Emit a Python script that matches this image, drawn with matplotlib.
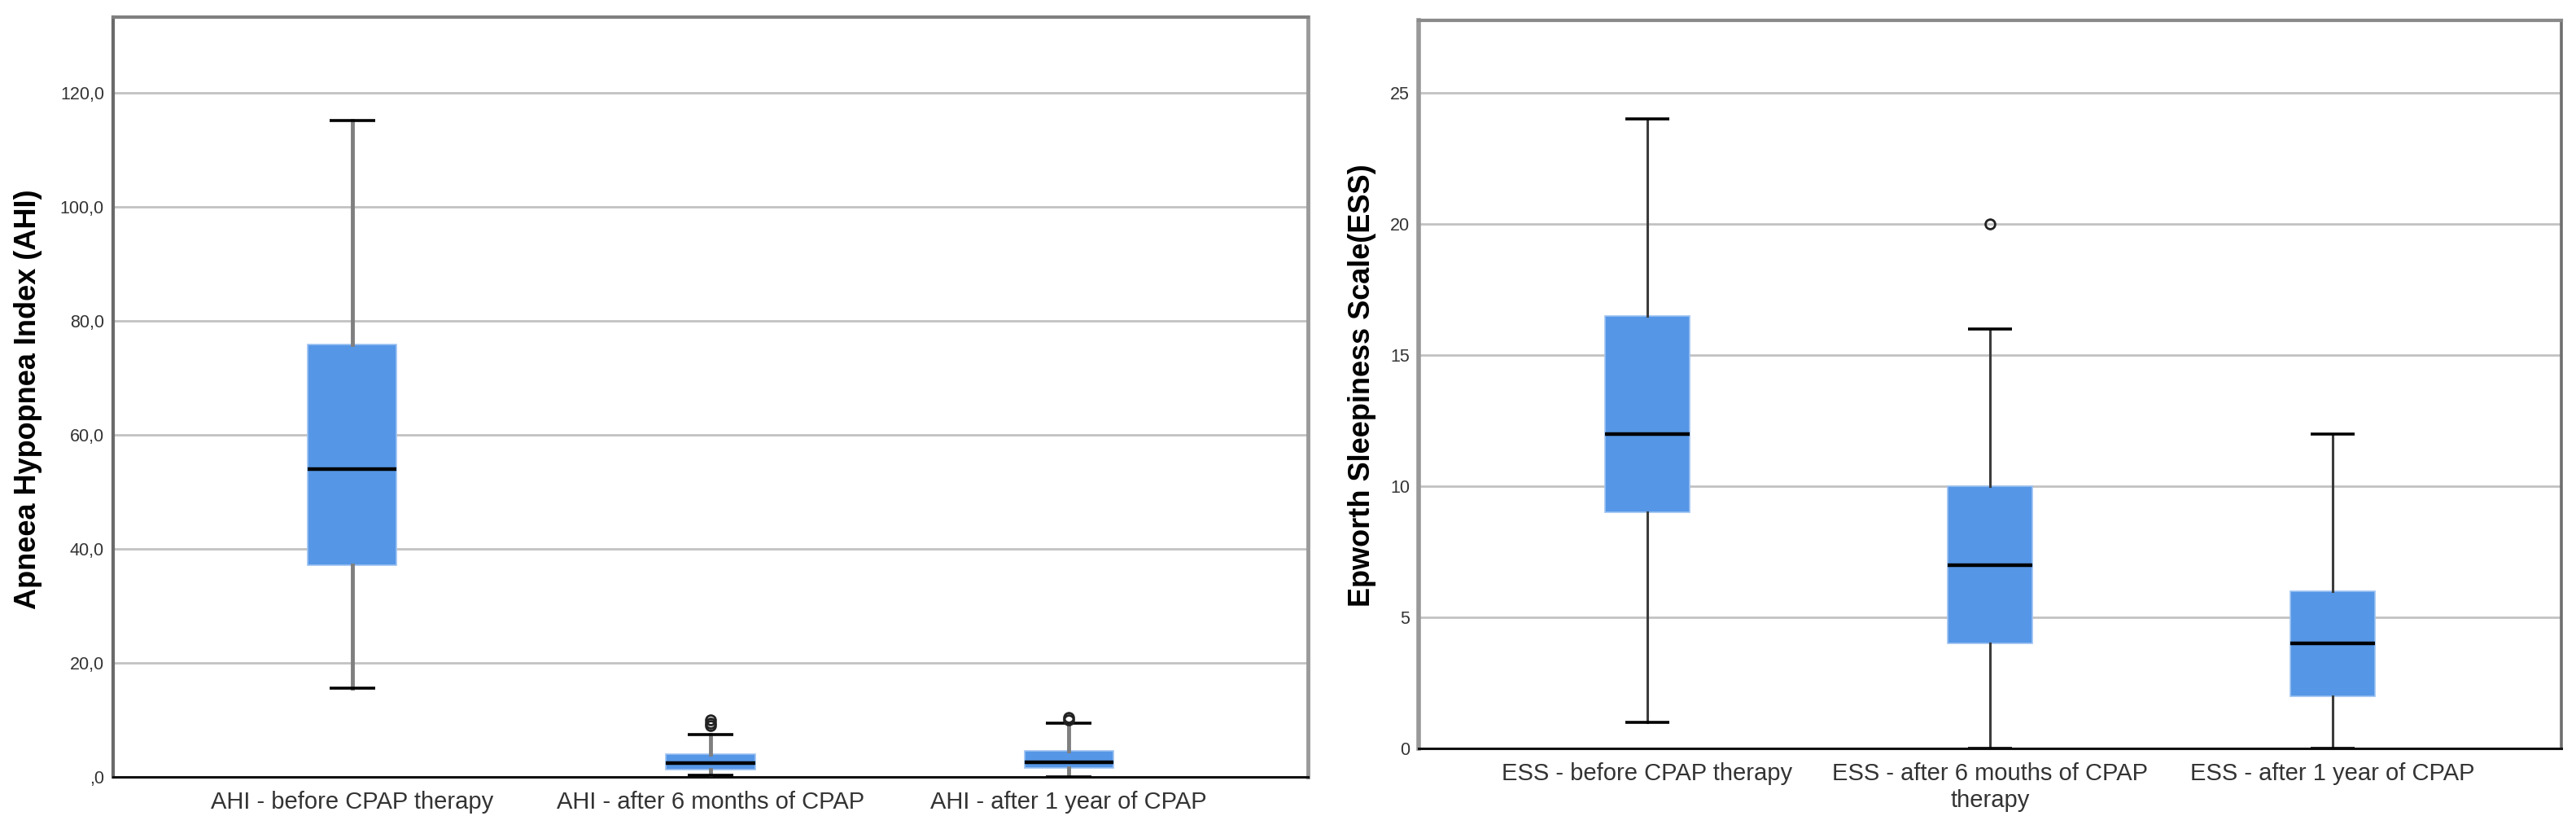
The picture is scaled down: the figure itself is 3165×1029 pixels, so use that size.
import matplotlib
matplotlib.use('Agg')
import matplotlib.pyplot as plt

# ---------------- data ----------------
ahi_labels = ["AHI - before CPAP therapy", "AHI - after 6 months of CPAP", "AHI - after 1 year of CPAP"]
ahi_q1 = [37.1, 1.3, 1.6]
ahi_med = [54.0, 2.5, 2.6]
ahi_q3 = [75.8, 4.0, 4.6]
ahi_whislo = [15.6, 0.3, 0.0]
ahi_whishi = [115.2, 7.5, 9.5]
ahi_fliers = [[], [9.0, 9.5, 10.0], [10.0, 10.5]]
ahi_yticks = [0, 20, 40, 60, 80, 100, 120]
ahi_yticklabels = [",0", "20,0", "40,0", "60,0", "80,0", "100,0", "120,0"]

ess_labels = ["ESS - before CPAP therapy", "ESS - after 6 mouths of CPAP\ntherapy", "ESS - after 1 year of CPAP"]
ess_q1 = [9, 4, 2]
ess_med = [12, 7, 4]
ess_q3 = [16.5, 10, 6]
ess_whislo = [1, 0, 0]
ess_whishi = [24, 16, 12]
ess_fliers = [[], [20], []]
ess_yticks = [0, 5, 10, 15, 20, 25]
ess_yticklabels = ["0", "5", "10", "15", "20", "25"]

BOX_COLOR = '#5596e6'
W, H = 3165, 1029

fig = plt.figure(figsize=(W / 100, H / 100), dpi=100)
fig.patch.set_facecolor('white')

axL = fig.add_axes([139 / W, 1 - 954 / H, 1468 / W, 933 / H])
axR = fig.add_axes([1743 / W, 1 - 919 / H, 1404 / W, 894 / H])

label_font = ['Liberation Sans', 'DejaVu Sans']


def draw(ax, labels, q1, med, q3, lo, hi, fl, ylim, yticks, yticklabels,
         wcolor, wlw, spine_cols):
    stats = []
    for i in range(len(labels)):
        stats.append(dict(med=med[i], q1=q1[i], q3=q3[i], whislo=lo[i],
                          whishi=hi[i], fliers=fl[i], label=labels[i]))
    pos = list(range(len(labels)))
    ax.bxp(stats, positions=pos, widths=0.248, capwidths=0.127,
           patch_artist=True,
           boxprops=dict(facecolor=BOX_COLOR, edgecolor='#9cc2f2', linewidth=1.2),
           medianprops=dict(color='black', linewidth=3.2, solid_capstyle='butt'),
           whiskerprops=dict(color=wcolor, linewidth=wlw),
           capprops=dict(color='black', linewidth=2.6, solid_capstyle='butt'),
           flierprops=dict(marker='o', markerfacecolor='none', markeredgecolor='#222222',
                           markersize=8.5, markeredgewidth=2.0),
           zorder=3)
    ax.set_xlim(-0.667, 2.667)
    ax.set_ylim(*ylim)
    ax.set_yticks(yticks)
    ax.set_yticklabels(yticklabels, family='Liberation Sans', fontsize=15.5, color='#333333')
    ax.set_xticks(pos)
    ax.set_xticklabels(labels, family=label_font, fontsize=21, color='#333333',
                       linespacing=1.25)
    ax.tick_params(axis='both', length=0)
    ax.tick_params(axis='y', pad=8)
    ax.tick_params(axis='x', pad=12)
    ax.yaxis.grid(True, color='#c2c2c2', linewidth=2.0)
    ax.xaxis.grid(False)
    ax.set_axisbelow(True)
    for side, (c, lw) in spine_cols.items():
        ax.spines[side].set_color(c)
        ax.spines[side].set_linewidth(lw)


draw(axL, ahi_labels, ahi_q1, ahi_med, ahi_q3, ahi_whislo, ahi_whishi, ahi_fliers,
     (0, 133.3), ahi_yticks, ahi_yticklabels, '#7f7f7f', 3.5,
     {'left': ('#6a6a6a', 3.0), 'top': ('#808080', 3.0),
      'right': ('#9a9a9a', 3.5), 'bottom': ('#111111', 2.2)})

draw(axR, ess_labels, ess_q1, ess_med, ess_q3, ess_whislo, ess_whishi, ess_fliers,
     (0, 27.76), ess_yticks, ess_yticklabels, '#3c3c3c', 2.2,
     {'left': ('#999999', 4.0), 'top': ('#8a8a8a', 3.0),
      'right': ('#6e6e6e', 2.6), 'bottom': ('#111111', 2.2)})

fig.text(35 / W, 1 - 490 / H, "Apneea Hypopnea Index (AHI)", rotation=90,
         ha='center', va='center', fontsize=26, fontweight='bold',
         family='Liberation Sans', color='black')
fig.text(1673 / W, 1 - 473 / H, "Epworth Sleepiness Scale(ESS)", rotation=90,
         ha='center', va='center', fontsize=26, fontweight='bold',
         family='Liberation Sans', color='black')

fig.savefig('out.png', dpi=100, facecolor='white')
